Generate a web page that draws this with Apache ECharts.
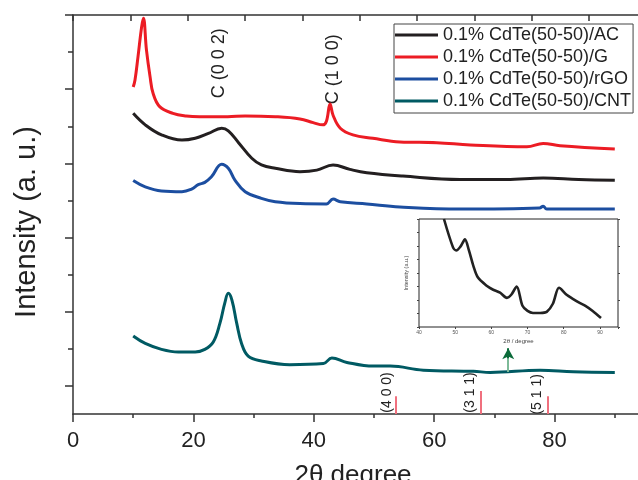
<!DOCTYPE html>
<html>
<head>
<meta charset="utf-8">
<script src="https://cdn.jsdelivr.net/npm/echarts@6/dist/echarts.min.js"></script>
<style>html,body{margin:0;background:#fff}#chart{width:638px;height:480px}</style>
</head>
<body>
<div id="chart"></div>
<script>
// ── data ─────────────────────────────────────────
const seriesNames = [
  "0.1% CdTe(50-50)/AC",
  "0.1% CdTe(50-50)/G",
  "0.1% CdTe(50-50)/rGO",
  "0.1% CdTe(50-50)/CNT"
];
const seriesColors = ["#231f20", "#ec1c24", "#1c4ea0", "#005a63"];

const acData = [[10,7.35],[12,7.04],[14.7,6.77],[18.1,6.63],[20.3,6.68],[22.5,6.81],[24.7,6.95],[25.8,6.88],
  [27.5,6.56],[29.7,6.14],[31.3,5.96],[33.6,5.87],[37.7,5.78],[40.5,5.82],[43.2,5.96],[46,5.84],
  [48.8,5.75],[54.8,5.66],[64.3,5.57],[72,5.57],[78.1,5.61],[84,5.57],[90,5.55]];
const gData = [[10,8.06],[10.3,8.25],[10.8,8.88],[11.4,9.68],[11.7,9.91],[12.2,9.06],[12.8,8.34],[13.3,7.89],
  [14.4,7.53],[16.6,7.35],[18.8,7.28],[21,7.26],[25.7,7.26],[28.6,7.28],[33.6,7.26],[37.7,7.2],[39.9,7.1],
  [41.5,7.04],[42.1,7.14],[42.7,7.6],[43.2,7.3],[44.4,6.95],[46.5,6.77],[49.8,6.68],[54.3,6.58],[60.4,6.56],
  [66,6.5],[75.4,6.45],[78.1,6.54],[80.9,6.48],[90,6.39]];
const rgoData = [[10,5.54],[12,5.37],[14.7,5.26],[18.1,5.24],[19.7,5.31],[20.8,5.43],[21.9,5.49],[23,5.64],
  [24.7,5.98],[25.8,5.87],[26.9,5.55],[28.6,5.24],[31.3,5.06],[33.6,4.97],[37.7,4.92],[42.1,4.91],[43.2,5.04],
  [44.4,4.97],[48.8,4.91],[54.3,4.83],[64.3,4.77],[77.5,4.8],[78.1,4.85],[78.7,4.77],[90,4.77]];
const cntData = [[10,1.35],[12,1.15],[14.7,0.99],[17.5,0.92],[20.3,0.92],[21.9,0.99],[23.3,1.19],[24.4,1.69],
  [25.2,2.23],[25.8,2.5],[26.4,2.32],[27.2,1.69],[28,1.15],[29.1,0.81],[31.3,0.68],[36,0.58],[41.6,0.61],
  [43,0.76],[45.5,0.64],[49.9,0.54],[52.7,0.54],[58.2,0.43],[66.5,0.4],[69.3,0.37],[77.6,0.43],[83.1,0.39],[90,0.37]];

// inset: magnified CNT pattern
const insetData = [[46.9,8],[49.4,5.9],[50.3,5.67],[51.5,5.97],[52.7,6.49],[53.8,5.67],[55,4.55],[56.3,3.66],
  [58.7,3.06],[60.5,2.76],[62.4,2.54],[64.3,2.16],[65.5,2.39],[67,2.99],[68.6,1.57],[70,1.19],[71.5,1.04],
  [73.5,1.04],[75.3,1.12],[77,1.72],[78.7,2.91],[80.8,2.39],[82.5,2.09],[84.4,1.79],[86,1.57],[88,1.19],[90.3,0.67]];

// CdTe reference sticks
const refLabels = ["(4 0 0)", "(3 1 1)", "(5 1 1)"];
const refX = [53.6, 67.7, 78.9];
const refTop = [-0.27, -0.13, -0.27];
const refLabelPos = [[52.2, -0.17], [65.9, -0.17], [77.1, -0.22]];

// carbon peak labels
const peakLabels = ["C (0 0 2)", "C (1 0 0)"];
const peakLabelPos = [[24.2, 8.7], [43.2, 8.54]];

// green arrow pointing to the inset
const arrowX = 72.3;
const arrowFrom = 0.38;
const arrowHead = 0.75;
const arrowTo = 1.02;

const yMin = -0.75;
const yMax = 10;
const yMajorTicks = [0, 2, 4, 6, 8, 10];
const yMinorTicks = [1, 3, 5, 7, 9];

const FONT = '"Liberation Sans", Arial, sans-serif';
const AX = "#333";

const chart = echarts.init(document.getElementById("chart"));

const refLines = refX.map((x, i) => [
  { coord: [x, yMin], lineStyle: { color: "#f0707e", width: 2, type: "solid" } },
  { coord: [x, refTop[i]] }
]);

const mainLine = (name, data, color, extra) => Object.assign({
  name, type: "line", data, xAxisIndex: 0, yAxisIndex: 0,
  showSymbol: false, smooth: 0.4,
  lineStyle: { color, width: 3 }, itemStyle: { color }
}, extra || {});

chart.setOption({
  animation: false,
  backgroundColor: "#fff",
  grid: [
    { left: 73, top: 15, width: 602, bottom: 66, outerBoundsMode: "none", containLabel: false },
    { left: 419, top: 219, width: 199, height: 108, outerBoundsMode: "none", show: true, borderColor: "#222", borderWidth: 1, backgroundColor: "transparent" }
  ],
  legend: {
    orient: "vertical", left: 394, top: 24,
    data: seriesNames, icon: "rect", itemWidth: 43, itemHeight: 3, itemGap: 0,
    padding: [0, 2, 1, 1], borderColor: "#444", borderWidth: 1,
    selectedMode: false,
    textStyle: { fontSize: 18, lineHeight: 22, color: "#222", fontFamily: FONT }
  },
  xAxis: [
    {
      type: "value", gridIndex: 0, min: 0, max: 100, interval: 20,
      axisLine: { onZero: false, lineStyle: { color: AX, width: 1.5 } },
      axisTick: { length: 8, lineStyle: { color: AX, width: 1.5 } },
      minorTick: { show: true, splitNumber: 2, length: 4, lineStyle: { color: AX, width: 1.5 } },
      axisLabel: { fontSize: 22, color: "#222", margin: 16, fontFamily: FONT, formatter: v => (v >= 100 ? "" : v) },
      splitLine: { show: false }
    },
    {
      type: "value", gridIndex: 0, position: "top", min: 0, max: 10.5, interval: 1,
      axisLine: { onZero: false, lineStyle: { color: AX, width: 1.5 } },
      axisTick: { inside: true, length: 6, lineStyle: { color: AX, width: 1.5 } },
      axisLabel: { show: false }, splitLine: { show: false }
    },
    {
      type: "value", gridIndex: 1, min: 40, max: 95, interval: 10,
      axisLine: { show: false, onZero: false },
      axisTick: { length: 2, lineStyle: { color: "#444" } },
      axisLabel: { fontSize: 5, color: "#555", margin: 3, fontFamily: FONT, formatter: v => (v > 90 ? "" : v) },
      splitLine: { show: false },
      name: "2θ / degree", nameLocation: "middle", nameGap: 11,
      nameTextStyle: { fontSize: 6, color: "#444", fontFamily: FONT }
    }
  ],
  yAxis: [
    {
      type: "value", gridIndex: 0, position: "left", min: yMin, max: yMax,
      axisLine: { show: true, onZero: false, lineStyle: { color: AX, width: 1.5 } },
      axisTick: { show: true, customValues: yMajorTicks, length: 8, lineStyle: { color: AX, width: 1.5 } },
      axisLabel: { show: false }, splitLine: { show: false }
    },
    {
      type: "value", gridIndex: 0, position: "left", min: yMin, max: yMax,
      axisLine: { show: false, onZero: false },
      axisTick: { show: true, customValues: yMinorTicks, length: 5, lineStyle: { color: AX, width: 1.5 } },
      axisLabel: { show: false }, splitLine: { show: false }
    },
    {
      type: "value", gridIndex: 1, position: "left", min: 0, max: 8, interval: 1,
      axisLine: { show: false, onZero: false },
      axisTick: { length: 2, lineStyle: { color: "#444" } },
      axisLabel: { show: false }, splitLine: { show: false },
      name: "Intensity (a.u.)", nameLocation: "middle", nameGap: 10,
      nameTextStyle: { fontSize: 5.5, color: "#444", fontFamily: FONT }
    },
    {
      type: "value", gridIndex: 1, position: "right", min: 0, max: 8, interval: 2,
      axisLine: { show: false, onZero: false },
      axisTick: { length: 2, lineStyle: { color: "#444" } },
      axisLabel: { show: false }, splitLine: { show: false }
    }
  ],
  series: [
    mainLine(seriesNames[0], acData, seriesColors[0]),
    mainLine(seriesNames[1], gData, seriesColors[1]),
    mainLine(seriesNames[2], rgoData, seriesColors[2]),
    mainLine(seriesNames[3], cntData, seriesColors[3], {
      markLine: {
        silent: true, symbol: ["none", "none"], label: { show: false },
        data: refLines.concat([
          [{ coord: [arrowX, arrowFrom], lineStyle: { color: "#7dba98", width: 2, type: "solid" } }, { coord: [arrowX, arrowHead + 0.05] }],
          [{ coord: [arrowX, arrowHead], symbol: "none", lineStyle: { color: "#0b6b3a", width: 2, type: "solid" } },
           { coord: [arrowX, arrowTo], symbol: "arrow", symbolSize: [9, 11] }]
        ])
      }
    }),
    {
      name: "inset", type: "line", data: insetData, xAxisIndex: 2, yAxisIndex: 2,
      showSymbol: false, smooth: 0.3,
      lineStyle: { color: "#222", width: 2.6 }, itemStyle: { color: "#222" }
    }
  ]
});

// ── text annotations placed through the axes ──────
const toPx = p => chart.convertToPixel({ xAxisIndex: 0, yAxisIndex: 0 }, p);
const graphics = [];
peakLabels.forEach((t, i) => {
  const [x, y] = toPx(peakLabelPos[i]);
  graphics.push({ type: "text", x, y, rotation: Math.PI / 2,
    style: { text: t, fontSize: 18, fontFamily: FONT, fill: "#222", align: "center", verticalAlign: "middle" } });
});
refLabels.forEach((t, i) => {
  const [x, y] = toPx(refLabelPos[i]);
  graphics.push({ type: "text", x, y, rotation: Math.PI / 2,
    style: { text: t, fontSize: 14, fontFamily: FONT, fill: "#222", align: "center", verticalAlign: "middle" } });
});
// axis titles
graphics.push({ type: "text", x: 353, y: 463,
  style: { text: "2θ degree", fontSize: 26, fontFamily: FONT, fill: "#222", align: "center", verticalAlign: "top" } });
graphics.push({ type: "text", x: 27, y: 222, rotation: Math.PI / 2,
  style: { text: "Intensity (a. u.)", fontSize: 29, fontFamily: FONT, fill: "#222", align: "center", verticalAlign: "middle" } });

chart.setOption({ graphic: graphics });
</script>
</body>
</html>
